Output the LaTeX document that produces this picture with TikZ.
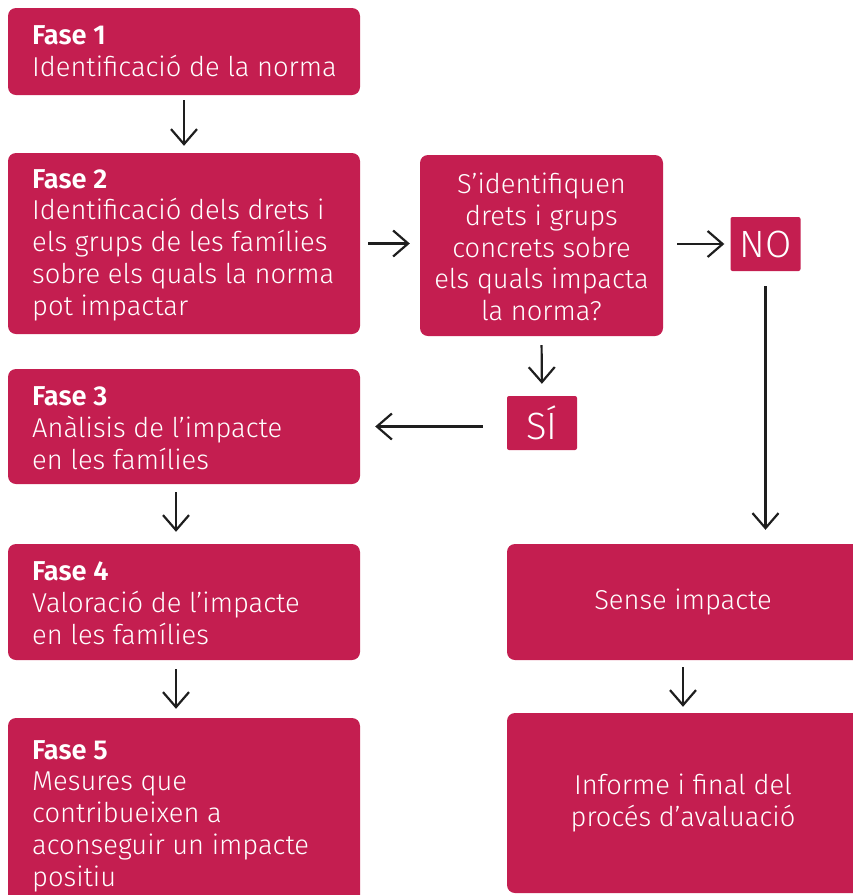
\documentclass[tikz,border=0pt]{standalone}
\usepackage{fontspec}
\setmainfont{Fira Sans Light}[BoldFont={Fira Sans SemiBold}]
\usetikzlibrary{arrows.meta}
\definecolor{crim}{RGB}{196,30,80}
\definecolor{ink}{RGB}{30,30,30}
\begin{document}
\begin{tikzpicture}[x=1pt,y=-1pt,
  box/.style={fill=crim, draw=none, rounded corners=8pt, inner sep=0pt},
  tag/.style={fill=crim, draw=none, rounded corners=2pt, inner sep=0pt, minimum width=70pt, minimum height=54pt, text=white, font=\fontsize{38}{40}\selectfont},
  txt/.style={text=white, align=left, inner sep=0pt, font=\fontsize{27.3}{31.7}\selectfont},
  ctxt/.style={text=white, align=center, inner sep=0pt, font=\fontsize{27.3}{31.7}\selectfont},
  arr/.style={draw=ink, line width=2.2pt, -{Straight Barb[length=15pt,width=26pt]}}]
\clip (0,0) rectangle (853,895);
\useasboundingbox (0,0) rectangle (853,895);
% boxes
\node[box, minimum width=352pt, minimum height=87pt] (f1) at (184,51.5) {};
\node[box, minimum width=352pt, minimum height=181pt] (f2) at (184,243.5) {};
\node[box, minimum width=243pt, minimum height=181pt] (q) at (541.5,245.5) {};
\node[tag] (no) at (765.5,244) {NO};
\node[tag] (si) at (542,423) {SÍ};
\node[box, minimum width=352pt, minimum height=115pt] (f3) at (184,426.5) {};
\node[box, minimum width=352pt, minimum height=116pt] (f4) at (184,602) {};
\node[box, minimum width=352pt, minimum height=194pt] (f5) at (184,815) {};
\node[box, minimum width=363pt, minimum height=116pt] (sense) at (688.5,602) {};
\node[box, minimum width=363pt, minimum height=180pt] (inf) at (688.5,803) {};
% texts
\node[txt, anchor=west] (f1t) at (32,51.5) {\textbf{Fase 1}\\Identificació de la norma};
\node[txt, anchor=west] (f2t) at (32,245) {\textbf{Fase 2}\\Identificació dels drets i\\els grups de les famílies\\sobre els quals la norma\\pot impactar};
\node[ctxt] (qt) at (541.5,247) {S’identifiquen\\drets i grups\\concrets sobre\\els quals impacta\\la norma?};
\node[txt, anchor=west] (f3t) at (32,428) {\textbf{Fase 3}\\Anàlisis de l’impacte\\en les famílies};
\node[txt, anchor=west] (f4t) at (32,603) {\textbf{Fase 4}\\Valoració de l’impacte\\en les famílies};
\node[txt, anchor=west] (f5t) at (32,816) {\textbf{Fase 5}\\Mesures que\\contribueixen a\\aconseguir un impacte\\positiu};
\node[ctxt] (senset) at (683,602) {Sense impacte};
\node[ctxt] (inft) at (683,803) {Informe i final del\\procés d’avaluació};
% connectors
\draw[arr, shorten <=5pt, shorten >=7pt] (f1.south) -- (f2.north);
\draw[arr, shorten <=8pt, shorten >=10pt] (f2.east) -- (f2.east -| q.west);
\draw[arr, shorten <=14pt, shorten >=6pt] (no.west -| q.east) -- (no.west);
\draw[arr, shorten <=9pt, shorten >=12pt] (q.south) -- (si.north);
\draw[arr, shorten <=24pt, shorten >=15pt] (si.west |- f3.east) -- (f3.east);
\draw[arr, shorten <=15pt, shorten >=14pt] (no.south) -- (no.south |- sense.north);
\draw[arr, shorten <=8pt, shorten >=12pt] ([xshift=-8pt]f3.south) -- ([xshift=-8pt]f4.north);
\draw[arr, shorten <=9pt, shorten >=9pt] ([xshift=-8pt]f4.south) -- ([xshift=-8pt]f5.north);
\draw[arr, shorten <=7pt, shorten >=6pt] ([xshift=-5.5pt]sense.south) -- ([xshift=-5.5pt]inf.north);
\end{tikzpicture}
\end{document}
